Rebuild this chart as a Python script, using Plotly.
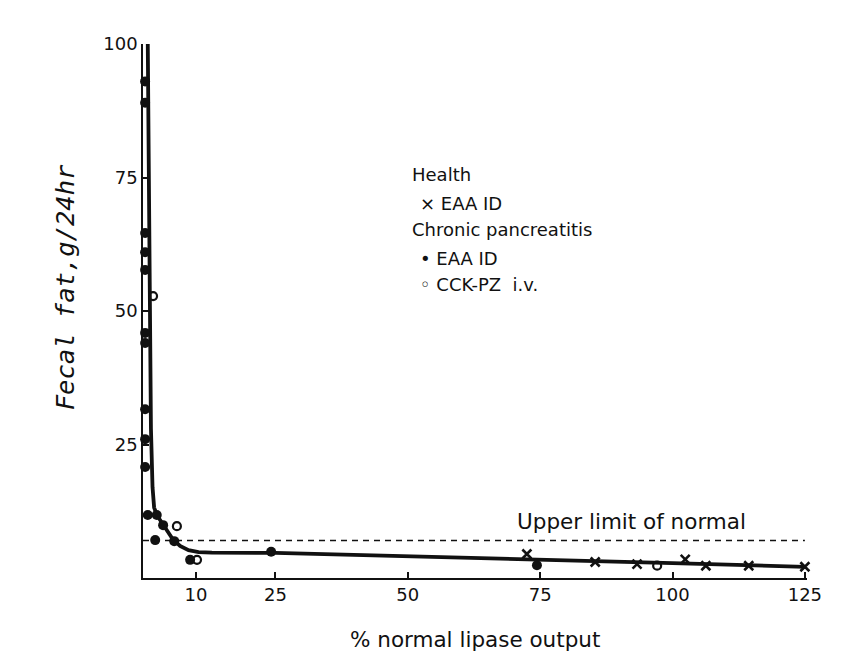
import plotly.graph_objects as go

# ---- data ----
cp_eaa_x = [0.4, 0.4, 0.4, 0.4, 0.4, 0.4, 0.4, 0.4, 0.4, 0.4, 0.9, 2.6, 3.8, 2.3, 5.9, 8.9, 24.2, 74.4]
cp_eaa_y = [93, 89, 64.6, 61, 57.7, 45.9, 44.0, 31.6, 26, 20.8, 11.8, 11.8, 9.9, 7.1, 6.9, 3.4, 4.9, 2.4]

cp_cck_x = [1.9, 6.4, 10.2, 97.1]
cp_cck_y = [52.8, 9.7, 3.4, 2.3]

health_x = [72.5, 85.4, 93.3, 102.4, 106.3, 114.4, 125]
health_y = [4.5, 3.0, 2.6, 3.5, 2.3, 2.3, 2.1]

curve_x = [0.9, 1.0, 1.1, 1.3, 1.5, 1.8, 2.1, 2.6, 3.4, 4.4, 5.6, 7.0, 8.6, 10.5, 13, 25, 50, 75, 100, 125]
curve_y = [100, 85, 70, 45, 28, 17, 13.2, 11.8, 10.6, 9.0, 7.3, 6.0, 5.2, 4.85, 4.75, 4.7, 4.1, 3.4, 2.8, 2.1]

upper_limit = 7
x_ticks = [10, 25, 50, 75, 100, 125]
y_ticks = [25, 50, 75, 100]

FONT = "DejaVu Sans"
INK = "#111111"

fig = go.Figure()

fig.add_trace(go.Scatter(x=[0, 125], y=[upper_limit, upper_limit], mode="lines",
                         line=dict(color=INK, width=1.5, dash="6px,5px"),
                         hoverinfo="skip", showlegend=False))
fig.add_trace(go.Scatter(x=curve_x, y=curve_y, mode="lines",
                         line=dict(color=INK, width=3.8, shape="linear"),
                         showlegend=False))
fig.add_trace(go.Scatter(x=cp_eaa_x, y=cp_eaa_y, mode="markers", cliponaxis=False,
                         marker=dict(symbol="circle", size=10, color=INK),
                         name="Chronic pancreatitis EAA ID", showlegend=False))
fig.add_trace(go.Scatter(x=cp_cck_x, y=cp_cck_y, mode="markers", cliponaxis=False,
                         marker=dict(symbol="circle-open", size=8, color=INK, line=dict(width=2.2)),
                         name="Chronic pancreatitis CCK-PZ i.v.", showlegend=False))
fig.add_trace(go.Scatter(x=health_x, y=health_y, mode="markers", cliponaxis=False,
                         marker=dict(symbol="x-thin", size=9, color=INK, line=dict(width=2.6, color=INK)),
                         name="Health EAA ID", showlegend=False))

ann_font = dict(family=FONT, size=18, color=INK)
fig.add_annotation(x=50.4, y=75.5, text="Health", showarrow=False, xanchor="left", font=ann_font)
fig.add_annotation(x=52.0, y=70.2, text="× EAA ID", showarrow=False, xanchor="left", font=ann_font)
fig.add_annotation(x=50.4, y=65.2, text="Chronic pancreatitis", showarrow=False, xanchor="left", font=ann_font)
fig.add_annotation(x=52.0, y=59.9, text="• EAA ID", showarrow=False, xanchor="left", font=ann_font)
fig.add_annotation(x=52.0, y=54.9, text="◦ CCK-PZ  i.v.", showarrow=False, xanchor="left", font=ann_font)
fig.add_annotation(x=92.2, y=10.5, text="Upper limit of normal", showarrow=False,
                   font=dict(family=FONT, size=21.5, color=INK))

fig.add_annotation(xref="paper", yref="paper", x=-0.117, y=0.545, text="<i>Fecal fat,g/24hr</i>",
                   textangle=-90, showarrow=False, xanchor="center", yanchor="middle",
                   font=dict(family="DejaVu Sans Mono", size=25.5, color=INK))
fig.add_annotation(xref="paper", yref="paper", x=0.5, y=-0.116, text="% normal lipase output",
                   showarrow=False, xanchor="center", yanchor="middle",
                   font=dict(family=FONT, size=21.5, color=INK))

fig.update_xaxes(range=[0, 125.4], tickvals=x_ticks, ticktext=[str(v) for v in x_ticks],
                 ticks="inside", ticklen=6, tickwidth=1.5, tickcolor=INK,
                 showline=True, linecolor=INK, linewidth=1.5, showgrid=False, zeroline=False,
                 tickfont=dict(family=FONT, size=18, color=INK))
fig.update_yaxes(range=[0, 100], tickvals=y_ticks, ticktext=[str(v) for v in y_ticks],
                 ticks="inside", ticklen=6, tickwidth=1.5, tickcolor=INK,
                 showline=True, linecolor=INK, linewidth=1.5, showgrid=False, zeroline=False,
                 tickfont=dict(family=FONT, size=18, color=INK))

# browser page has an 8px body margin, so shift the plot area up/left accordingly
fig.update_layout(width=854, height=671, margin=dict(l=135, r=55, t=36, b=101),
                  paper_bgcolor="white", plot_bgcolor="white", showlegend=False)

fig.write_html("out.html")
